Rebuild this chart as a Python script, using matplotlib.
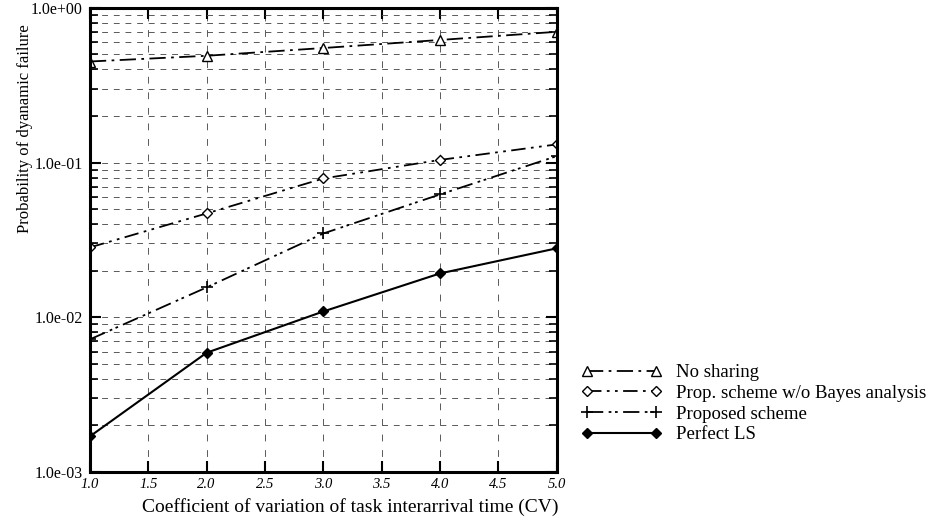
import matplotlib
matplotlib.use("Agg")
import matplotlib.pyplot as plt
from matplotlib.ticker import LogLocator, FixedLocator, NullFormatter

plt.rcParams['font.family'] = ['Liberation Serif', 'DejaVu Serif']

cv = [1.0, 2.0, 3.0, 4.0, 5.0]
no_sharing = [0.45, 0.49, 0.55, 0.62, 0.70]
prop_no_bayes = [0.0283, 0.0469, 0.0789, 0.104, 0.131]
proposed = [0.0072, 0.0156, 0.0348, 0.0622, 0.110]
perfect_ls = [0.0017, 0.0059, 0.0109, 0.0192, 0.0279]

labels = ["No sharing", "Prop. scheme w/o Bayes analysis",
          "Proposed scheme", "Perfect LS"]
xticks = [1.0, 1.5, 2.0, 2.5, 3.0, 3.5, 4.0, 4.5, 5.0]
yticks = [1e-3, 1e-2, 1e-1, 1e0]
yticklabels = ["1.0e-03", "1.0e-02", "1.0e-01", "1.0e+00"]

fig = plt.figure(figsize=(9.37, 5.23), dpi=100)
ax = fig.add_axes([0.096, 0.0975, 0.498, 0.8875])

ax.plot(cv, no_sharing, color='k', lw=1.3, dashes=(9, 3, 1.5, 3),
        marker='^', mfc='white', mec='k', ms=7, label=labels[0])
ax.plot(cv, prop_no_bayes, color='k', lw=1.3, dashes=(8, 3, 1.5, 3, 1.5, 3),
        marker='D', mfc='white', mec='k', ms=5, label=labels[1])
ax.plot(cv, proposed, color='k', lw=1.3, dashes=(9, 3, 1.5, 2, 1.5, 3),
        marker='+', mec='k', ms=9, mew=1.2, label=labels[2])
ax.plot(cv, perfect_ls, color='k', lw=1.5, ls='-',
        marker='D', mfc='k', mec='k', ms=5, label=labels[3])

ax.set_yscale('log')
ax.set_xlim(1.0, 5.0)
ax.set_ylim(1e-3, 1e0)
ax.xaxis.set_major_locator(FixedLocator(xticks))
ax.set_xticklabels([f"{t:.1f}" for t in xticks], fontsize=10.5, style='italic')
ax.yaxis.set_major_locator(FixedLocator(yticks))
ax.set_yticklabels(yticklabels, fontsize=11.5)
ax.yaxis.set_minor_locator(LogLocator(base=10, subs=range(2, 10)))
ax.yaxis.set_minor_formatter(NullFormatter())

ax.tick_params(which='both', direction='in', top=True, right=True, color='k')
ax.tick_params(which='major', length=8, width=1.5)
ax.tick_params(which='minor', length=6, width=1.2)
ax.tick_params(axis='x', which='major', length=8, pad=4)
ax.tick_params(axis='y', which='major', pad=5)

ax.grid(which='both', axis='y', color='0.35', lw=0.7, dashes=(6, 6))
ax.grid(which='major', axis='x', color='0.35', lw=0.7, dashes=(7, 9))
for s in ax.spines.values():
    s.set_linewidth(2.2)

ax.set_xlabel("Coefficient of variation of task interarrival time (CV)",
              fontsize=14)
ax.xaxis.set_label_coords(0.558, -0.057)
ax.set_ylabel("Probability of dyanamic failure", fontsize=12)
ax.yaxis.set_label_coords(-0.123, 0.74)

fig.legend(loc='upper left', bbox_to_anchor=(0.620, 0.304), frameon=False,
           numpoints=2, handlelength=4.3, handletextpad=0.77,
           labelspacing=0.19, fontsize=13.5, borderaxespad=0, borderpad=0)

fig.savefig("out.png", dpi=100)
